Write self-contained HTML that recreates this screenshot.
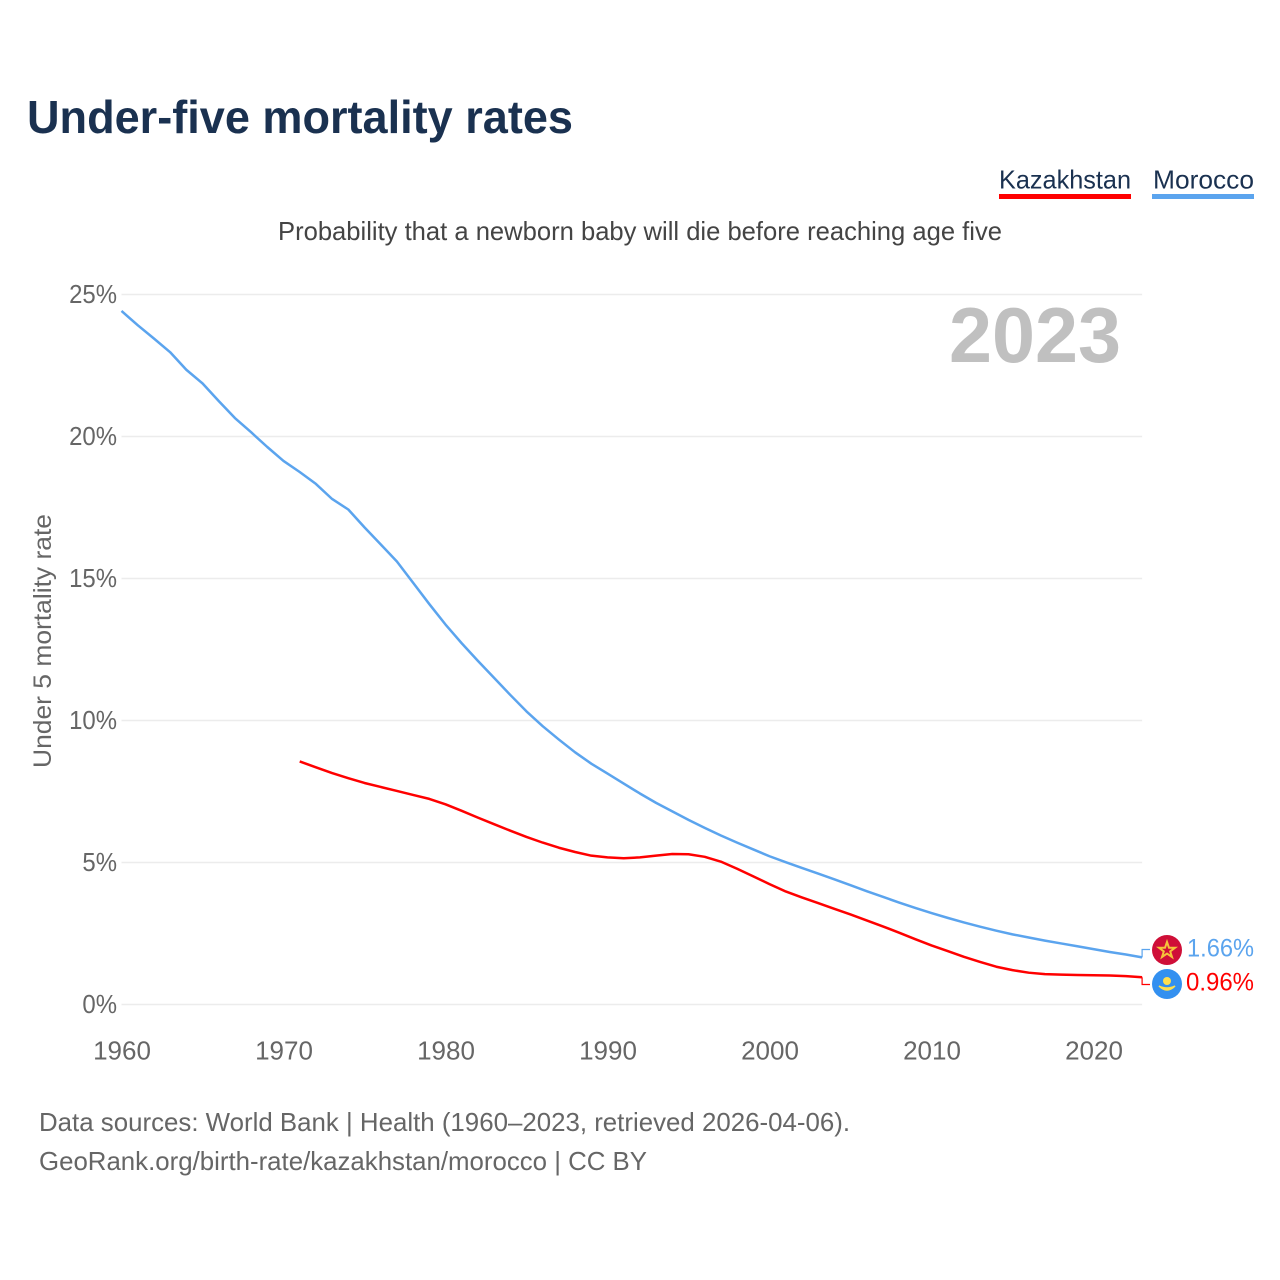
<!DOCTYPE html>
<html lang="en">
<head>
<meta charset="utf-8">
<title>Under-five mortality rates</title>
<style>
html,body{margin:0;padding:0;background:#fff}
svg{display:block}
text{font-family:"Liberation Sans",sans-serif}
</style>
</head>
<body>
<svg id="chart" xmlns="http://www.w3.org/2000/svg" width="1280" height="1280" viewBox="0 0 1280 1280">
  <text x="27" y="133" font-size="46" font-weight="700" fill="#1a3150" textLength="546" lengthAdjust="spacingAndGlyphs">Under-five mortality rates</text>
  <g>
    <text x="999" y="188.5" font-size="26" fill="#1a3150" textLength="132" lengthAdjust="spacingAndGlyphs">Kazakhstan</text>
    <rect x="999" y="194" width="132" height="5" fill="#ff0000"/>
  </g>
  <g>
    <text x="1153" y="188.5" font-size="26" fill="#1a3150" textLength="101" lengthAdjust="spacingAndGlyphs">Morocco</text>
    <rect x="1152" y="194" width="102" height="5" fill="#5ba4ee"/>
  </g>
  <text x="278" y="240" font-size="26" fill="#444444" textLength="724" lengthAdjust="spacingAndGlyphs">Probability that a newborn baby will die before reaching age five</text>
  <text transform="translate(51,768) rotate(-90)" font-size="25" fill="#666666" textLength="254" lengthAdjust="spacingAndGlyphs">Under 5 mortality rate</text>
  <g id="grid"></g>
  <g id="yticks"></g>
  <g id="xticks"></g>
  <text x="949" y="362" font-size="78" font-weight="700" fill="#c0c0c0" textLength="172" lengthAdjust="spacingAndGlyphs">2023</text>
  <g id="series"></g>
  <g id="labels"></g>
  <g>
    <circle cx="1167" cy="950" r="15" fill="#cf0f38"/>
    <polygon points="1167,942 1169,947.8 1175,947.8 1170.2,951.4 1172,957 1167,953.6 1162,957 1163.8,951.4 1159,947.8 1165,947.8" fill="none" stroke="#f5c33b" stroke-width="2"/>
  </g>
  <g>
    <circle cx="1167" cy="984" r="15" fill="#3390f0"/>
    <circle cx="1167" cy="981" r="4" fill="#ffdf4f"/>
    <path d="M1159 986 Q1167 994 1175 986 Q1167 990 1159 986 Z" fill="#ffdf4f" stroke="#ffdf4f" stroke-width="1.5"/>
  </g>
  <text x="39" y="1131" font-size="26" fill="#666666" textLength="811" lengthAdjust="spacingAndGlyphs">Data sources: World Bank | Health (1960–2023, retrieved 2026-04-06).</text>
  <text x="39" y="1170" font-size="26" fill="#666666" textLength="608" lengthAdjust="spacingAndGlyphs">GeoRank.org/birth-rate/kazakhstan/morocco | CC BY</text>
</svg>
<script>
const years = [1960,1961,1962,1963,1964,1965,1966,1967,1968,1969,1970,1971,1972,1973,1974,1975,1976,1977,1978,1979,1980,1981,1982,1983,1984,1985,1986,1987,1988,1989,1990,1991,1992,1993,1994,1995,1996,1997,1998,1999,2000,2001,2002,2003,2004,2005,2006,2007,2008,2009,2010,2011,2012,2013,2014,2015,2016,2017,2018,2019,2020,2021,2022,2023];
const moroccoValues = [24.42,23.92,23.45,22.97,22.35,21.87,21.25,20.65,20.15,19.63,19.14,18.75,18.33,17.8,17.43,16.8,16.2,15.6,14.85,14.1,13.38,12.72,12.1,11.5,10.9,10.32,9.8,9.33,8.88,8.48,8.13,7.78,7.43,7.1,6.8,6.5,6.22,5.95,5.7,5.46,5.22,5.01,4.81,4.61,4.41,4.2,3.99,3.79,3.59,3.4,3.22,3.05,2.89,2.74,2.6,2.47,2.36,2.25,2.15,2.05,1.95,1.85,1.76,1.66];
const kazakhstanValues = [null,null,null,null,null,null,null,null,null,null,null,8.56,8.35,8.15,7.97,7.8,7.66,7.52,7.38,7.24,7.05,6.82,6.58,6.35,6.12,5.9,5.7,5.52,5.37,5.24,5.18,5.15,5.18,5.24,5.3,5.29,5.2,5.03,4.78,4.51,4.24,3.98,3.77,3.57,3.37,3.17,2.96,2.75,2.53,2.3,2.08,1.88,1.68,1.5,1.33,1.21,1.12,1.07,1.05,1.04,1.03,1.02,1.0,0.96];
const yTickValues = [0,5,10,15,20,25];
const xTickValues = [1960,1970,1980,1990,2000,2010,2020];

const NS = 'http://www.w3.org/2000/svg';
const xScale = function (year) { return 121.5 + (year - 1960) * 16.2; };
const yScale = function (value) { return 1004.5 - value * 28.4; };

function make(tag, parent, attrs) {
  const el = document.createElementNS(NS, tag);
  for (const k in attrs) el.setAttribute(k, attrs[k]);
  parent.appendChild(el);
  return el;
}

const grid = document.getElementById('grid');
const yticks = document.getElementById('yticks');
yTickValues.forEach(function (v) {
  const line = make('line', grid, {x1: xScale(1960), x2: xScale(2023), y1: yScale(v), y2: yScale(v), stroke: '#ececec', 'stroke-width': 1.5});
  
  
  const label = make('text', yticks, {x: 117, y: yScale(v) + 8.5, 'font-size': 26, fill: '#666666', 'text-anchor': 'end'});
  label.textContent = v + '%';
  
  
  label.setAttribute('textLength', (label.getComputedTextLength() * 0.92).toFixed(1));
  label.setAttribute('lengthAdjust', 'spacingAndGlyphs');
});

const xticks = document.getElementById('xticks');
xTickValues.forEach(function (t) {
  const label = make('text', xticks, {x: xScale(t) + 0.5, y: 1059.5, 'font-size': 26, fill: '#666666', 'text-anchor': 'middle'});
  label.textContent = String(t);
  
  
});

function linePoints(values) {
  const pts = [];
  values.forEach(function (v, i) {
    if (v !== null) pts.push(xScale(years[i]).toFixed(2) + ',' + yScale(v).toFixed(2));
  });
  return pts.join(' ');
}

const series = document.getElementById('series');
const lineMorocco = make('polyline', series, {points: linePoints(moroccoValues), fill: 'none', stroke: '#5ba4ee', 'stroke-width': 2.5, 'stroke-linejoin': 'round'});


const lineKazakhstan = make('polyline', series, {points: linePoints(kazakhstanValues), fill: 'none', stroke: '#ff0000', 'stroke-width': 2.5, 'stroke-linejoin': 'round'});



const labels = document.getElementById('labels');
const lastX = xScale(years[years.length - 1]);
const moroccoLast = moroccoValues[moroccoValues.length - 1];
const kazakhstanLast = kazakhstanValues[kazakhstanValues.length - 1];

const connectorMorocco = make('polyline', labels, {points: lastX + ',' + yScale(moroccoLast) + ' ' + lastX + ',949.5 1150,949.5', fill: 'none', stroke: '#5ba4ee', 'stroke-width': 1.2});


const connectorKazakhstan = make('polyline', labels, {points: lastX + ',' + yScale(kazakhstanLast) + ' ' + lastX + ',984.5 1150,984.5', fill: 'none', stroke: '#ff0000', 'stroke-width': 1.2});



const valueMorocco = make('text', labels, {x: 1187, y: 956.5, 'font-size': 25, fill: '#5ba4ee', textLength: 67, lengthAdjust: 'spacingAndGlyphs'});
valueMorocco.textContent = moroccoLast.toFixed(2) + '%';


const valueKazakhstan = make('text', labels, {x: 1186, y: 990.5, 'font-size': 25, fill: '#ff0000', textLength: 68, lengthAdjust: 'spacingAndGlyphs'});
valueKazakhstan.textContent = kazakhstanLast.toFixed(2) + '%';


</script>
</body>
</html>
